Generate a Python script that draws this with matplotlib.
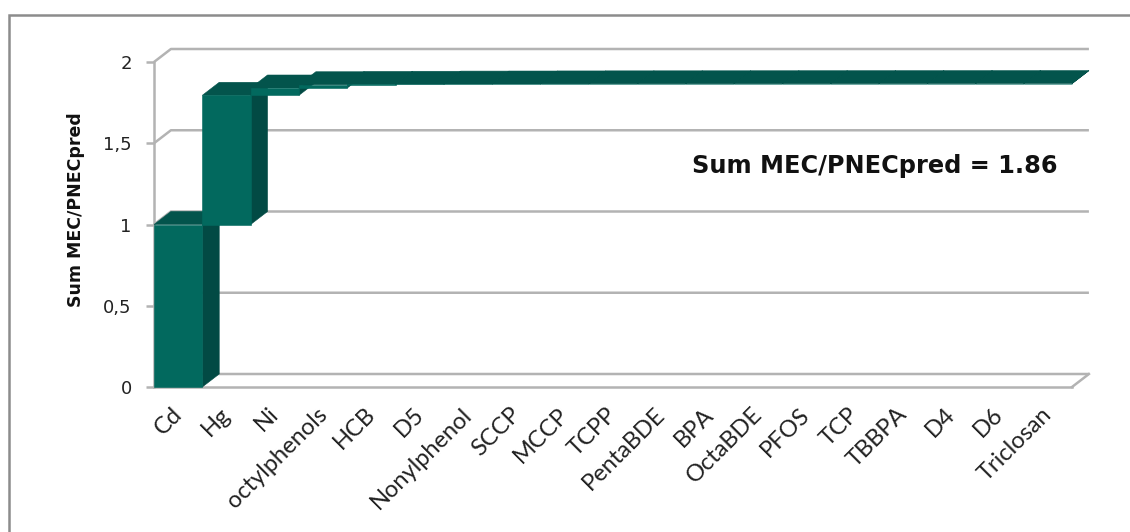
#!/usr/bin/env python3
import numpy as np
import matplotlib
matplotlib.use("Agg")
import matplotlib.pyplot as plt
from matplotlib.patches import Polygon, Rectangle
from matplotlib.transforms import ScaledTranslation

categories = ["Cd", "Hg", "Ni", "octylphenols", "HCB", "D5", "Nonylphenol", "SCCP", "MCCP", "TCPP",
              "PentaBDE", "BPA", "OctaBDE", "PFOS", "TCP", "TBBPA", "D4", "D6", "Triclosan"]
# bijdrage per stof, bars zijn cumulatief
increments = [1.0, 0.795, 0.045, 0.02, 0.002, 0.001, 0.001, 0.0005, 0.0005, 0.0005,
              0.0002, 0.0002, 0.0002, 0.0002, 0.0002, 0.0002, 0.0002, 0.0002, 0.0002]
y_ticks = [0, 0.5, 1, 1.5, 2]
y_labels = ["0", "0,5", "1", "1,5", "2"]
title_text = "Sum MEC/PNECpred = 1.86"
y_title = "Sum MEC/PNECpred"

W, H = 1130, 532
GRID = "#b3b3b3"
FRONT = "#02695e"
TOP = "#03544c"
SIDE = "#024a44"
DX = 0.35  # diepte in categorie-eenheden
DY = 0.08  # diepte in y-eenheden

fig = plt.figure(figsize=(W / 100, H / 100), dpi=100)
fig.patches.append(Rectangle((8.5 / W, -0.1), 1.2, 1 - 14.5 / H + 0.1, transform=fig.transFigure,
                             fill=False, ec="#8c8c8c", lw=1.8))
ax = fig.add_axes([154 / W, 1 - 387 / H, (1072 - 154) / W, (387 - 62) / H])
n = len(categories)
ax.set_xlim(0, n)
ax.set_ylim(0, 2)

# achterwand
for v in y_ticks:
    ax.plot([0, DX, n + DX], [v, v + DY, v + DY], color=GRID, lw=1.8, clip_on=False, zorder=1,
            solid_capstyle="butt")
ax.plot([n, n + DX], [0, DY], color=GRID, lw=1.8, clip_on=False, zorder=1)

# bars
tops = np.cumsum(increments)
bottoms = tops - np.array(increments)
for i in range(n):
    x0, x1, b, t = i, i + 1, bottoms[i], tops[i]
    z = 3 + i
    ax.add_patch(Polygon([(x1, b), (x1 + DX, b + DY), (x1 + DX, t + DY), (x1, t)], fc=SIDE, ec=SIDE, lw=0.4,
                         clip_on=False, zorder=z))
    ax.add_patch(Polygon([(x0, t), (x0 + DX, t + DY), (x1 + DX, t + DY), (x1, t)], fc=TOP, ec=TOP, lw=0.4,
                         clip_on=False, zorder=z))
    ax.add_patch(Polygon([(x0, b), (x1, b), (x1, t), (x0, t)], fc=FRONT, ec=FRONT, lw=0.4,
                         clip_on=False, zorder=z))

ax.set_xticks(np.arange(n) + 0.5)
ax.set_xticklabels(categories, rotation=45, ha="right", va="top", rotation_mode="anchor",
                   family="Lato", fontsize=17, color="#222222")
ax.tick_params(axis="x", length=0, pad=12)
shift = ScaledTranslation(-7 / 100, 0, fig.dpi_scale_trans)
for lab in ax.get_xticklabels():
    lab.set_transform(lab.get_transform() + shift)
ax.set_yticks(y_ticks)
ax.set_yticklabels(y_labels, family="DejaVu Sans", fontsize=13, color="#222222")
ax.tick_params(axis="y", length=6, width=1.8, color=GRID, pad=10)
for s in ["top", "right"]:
    ax.spines[s].set_visible(False)
for s in ["left", "bottom"]:
    ax.spines[s].set_color(GRID)
    ax.spines[s].set_linewidth(1.8)
    ax.spines[s].set_zorder(2)
ax.set_facecolor("none")

fig.text(76 / W, 1 - 210 / H, y_title, rotation=90, ha="center", va="center",
         family="DejaVu Sans", fontweight="bold", fontsize=12.5, color="#111111")
fig.text(875 / W, 1 - 166 / H, title_text, ha="center", va="center",
         family="DejaVu Sans", fontweight="bold", fontsize=17.3, color="#111111")

fig.savefig("out.png", dpi=100)
